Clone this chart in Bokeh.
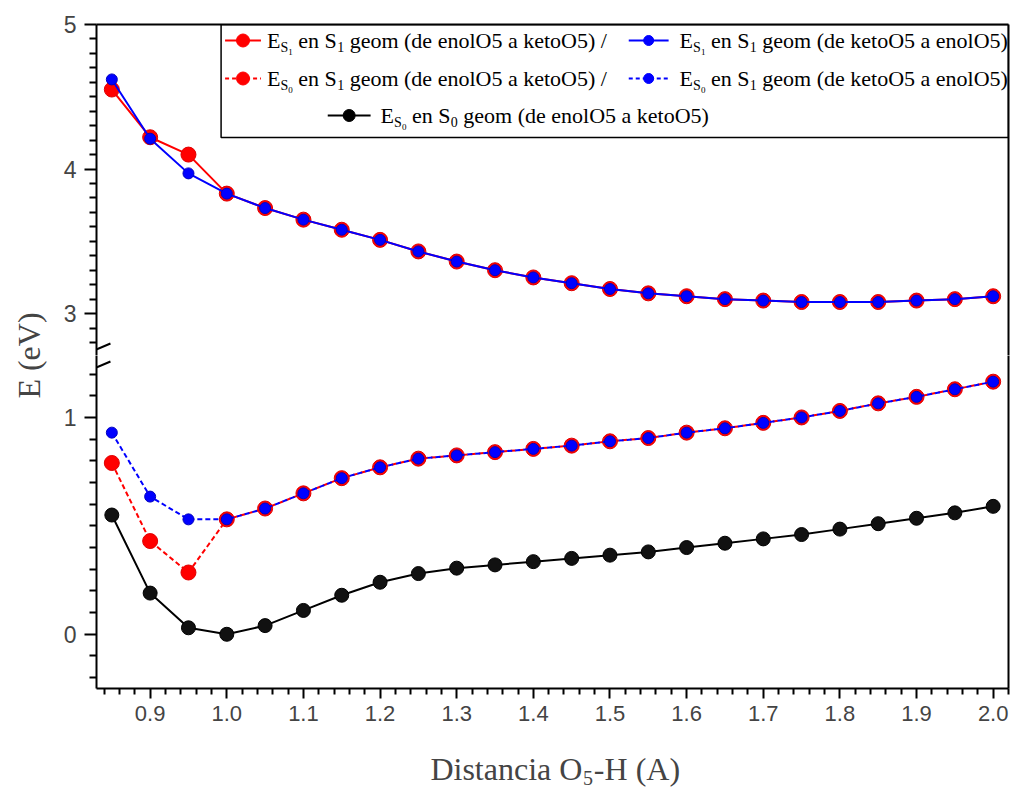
import math
from bokeh.plotting import figure
from bokeh.models import Range1d, FixedTicker, LinearAxis, Label, BoxAnnotation, PolyAnnotation, PrintfTickFormatter, Grid
from bokeh.layouts import row, column
from bokeh.embed import file_html
from bokeh.resources import INLINE

# ---------------- data ----------------
distance = [0.85, 0.90, 0.95, 1.00, 1.05, 1.10, 1.15, 1.20, 1.25, 1.30, 1.35, 1.40,
            1.45, 1.50, 1.55, 1.60, 1.65, 1.70, 1.75, 1.80, 1.85, 1.90, 1.95, 2.00]
e_s1_s1_enol_keto = [4.55, 4.22, 4.10, 3.83, 3.73, 3.65, 3.58, 3.51, 3.43, 3.36, 3.30, 3.25,
                     3.21, 3.17, 3.14, 3.12, 3.10, 3.09, 3.08, 3.08, 3.08, 3.09, 3.10, 3.12]
e_s1_s1_keto_enol = [4.62, 4.21, 3.97, 3.83, 3.73, 3.65, 3.58, 3.51, 3.43, 3.36, 3.30, 3.25,
                     3.21, 3.17, 3.14, 3.12, 3.10, 3.09, 3.08, 3.08, 3.08, 3.09, 3.10, 3.12]
e_s0_s1_enol_keto = [0.79, 0.43, 0.285, 0.53, 0.58, 0.65, 0.72, 0.77, 0.81, 0.825, 0.84, 0.855,
                     0.87, 0.89, 0.905, 0.93, 0.95, 0.975, 1.00, 1.03, 1.065, 1.095, 1.13, 1.165]
e_s0_s1_keto_enol = [0.93, 0.635, 0.53, 0.53, 0.58, 0.65, 0.72, 0.77, 0.81, 0.825, 0.84, 0.855,
                     0.87, 0.89, 0.905, 0.93, 0.95, 0.975, 1.00, 1.03, 1.065, 1.095, 1.13, 1.165]
e_s0_s0_enol_keto = [0.55, 0.19, 0.03, 0.00, 0.04, 0.11, 0.18, 0.24, 0.28, 0.305, 0.32, 0.335,
                     0.35, 0.365, 0.38, 0.40, 0.42, 0.44, 0.46, 0.485, 0.51, 0.535, 0.56, 0.59]

x_ticks = [0.9, 1.0, 1.1, 1.2, 1.3, 1.4, 1.5, 1.6, 1.7, 1.8, 1.9, 2.0]
upper_ticks = [3, 4, 5]
lower_ticks = [0, 1]

# ---------------- geometry ----------------
YL_W = 60
MAIN_W = 1013 - YL_W
F_LEFT = 93          # absolute frame left
F_RIGHT = 1008       # absolute frame right
TOP = 24
BREAK = 355
AXIS_Y = 688
XT_H = 52
X0, X1 = 0.83, 2.02
UY0, UY1 = 2.71, 5.0
LY0, LY1 = -0.25, 1.2857

SERIF = "Liberation Serif"
SANS = "Liberation Sans"


def ux(px):
    return X0 + (px - F_LEFT) * (X1 - X0) / (F_RIGHT - F_LEFT)


def uy(py):
    return UY1 - (py - TOP) * (UY1 - UY0) / (BREAK - TOP)


def ly(py):
    return LY1 - (py - BREAK) * (LY1 - LY0) / (AXIS_Y - BREAK)


def style_axis(ax, major_out=12, minor_out=7):
    ax.axis_line_color = "black"
    ax.axis_line_width = 2
    ax.major_tick_line_color = "black"
    ax.major_tick_line_width = 2
    ax.minor_tick_line_color = "black"
    ax.minor_tick_line_width = 2
    ax.major_tick_in = 0
    ax.major_tick_out = major_out
    ax.minor_tick_in = 0
    ax.minor_tick_out = minor_out


def plain_axis():
    ax = LinearAxis(ticker=FixedTicker(ticks=[], minor_ticks=[]))
    ax.axis_line_color = "black"
    ax.axis_line_width = 2
    ax.major_tick_out = 0
    ax.major_tick_in = 0
    ax.minor_tick_out = 0
    ax.minor_tick_in = 0
    ax.major_label_text_font_size = "0px"
    ax.major_label_standoff = 0
    return ax


def no_grid(f):
    for r in list(f.center):
        if isinstance(r, Grid):
            r.visible = False


xr = Range1d(X0, X1)

# ---------------- upper panel ----------------
up = figure(width=MAIN_W, height=BREAK, x_range=xr, y_range=Range1d(UY0, UY1),
            output_backend="svg", toolbar_location=None,
            x_axis_location=None, y_axis_location="left",
            min_border_left=F_LEFT - YL_W, min_border_right=1013 - F_RIGHT,
            min_border_top=TOP, min_border_bottom=0)
up.add_layout(plain_axis(), "above")
up.add_layout(plain_axis(), "right")
up_minor = [round(0.1 * i, 1) for i in range(28, 50) if i % 10 != 0]
up.yaxis[0].ticker = FixedTicker(ticks=upper_ticks, minor_ticks=up_minor)
style_axis(up.yaxis[0])
up.yaxis[0].major_label_text_font = SANS
up.yaxis[0].major_label_text_font_size = "23px"
up.yaxis[0].major_label_standoff = 8

# ---------------- lower panel ----------------
lo = figure(width=MAIN_W, height=AXIS_Y - BREAK + XT_H, x_range=xr, y_range=Range1d(LY0, LY1),
            output_backend="svg", toolbar_location=None,
            x_axis_location="below", y_axis_location="left",
            min_border_left=F_LEFT - YL_W, min_border_right=1013 - F_RIGHT,
            min_border_top=0, min_border_bottom=XT_H)
lo.add_layout(plain_axis(), "right")
lo_minor = [round(0.1 * i, 1) for i in range(-2, 13) if i % 10 != 0]
lo.yaxis[0].ticker = FixedTicker(ticks=lower_ticks, minor_ticks=lo_minor)
style_axis(lo.yaxis[0])
lo.yaxis[0].major_label_text_font = SANS
lo.yaxis[0].major_label_text_font_size = "23px"
lo.yaxis[0].major_label_standoff = 8
x_minor = [round(0.02 * i, 2) for i in range(42, 102) if i % 5 != 0]
lo.xaxis[0].ticker = FixedTicker(ticks=x_ticks, minor_ticks=x_minor)
lo.xaxis[0].formatter = PrintfTickFormatter(format="%.1f")
style_axis(lo.xaxis[0], major_out=10, minor_out=6)
lo.xaxis[0].major_label_text_font = SANS
lo.xaxis[0].major_label_text_font_size = "22px"
lo.xaxis[0].major_label_standoff = 7

for f in (up, lo):
    no_grid(f)
    f.outline_line_color = None
    f.background_fill_color = "white"
    f.border_fill_color = "white"

RED, BLUE = "#ff0000", "#0000ff"

# upper curves
up.line(distance, e_s1_s1_enol_keto, line_color=RED, line_width=2)
up.scatter(distance, e_s1_s1_enol_keto, size=15, fill_color=RED, line_color="#e00000")
up.line(distance, e_s1_s1_keto_enol, line_color=BLUE, line_width=2)
up.scatter(distance, e_s1_s1_keto_enol, size=11, fill_color=BLUE, line_color="#0000c0")

# lower curves
lo.line(distance, e_s0_s1_enol_keto, line_color=RED, line_width=2, line_dash="5 3")
lo.scatter(distance, e_s0_s1_enol_keto, size=15, fill_color=RED, line_color="#e00000")
lo.line(distance, e_s0_s1_keto_enol, line_color=BLUE, line_width=2, line_dash="5 3")
lo.scatter(distance, e_s0_s1_keto_enol, size=11, fill_color=BLUE, line_color="#0000c0")
lo.line(distance, e_s0_s0_enol_keto, line_color="black", line_width=2)
lo.scatter(distance, e_s0_s0_enol_keto, size=14, fill_color="#111111", line_color="black")

# axis break marks: placed in the left side panel so they are not clipped to the frame
up.add_layout(PolyAnnotation(xs=[ux(81), ux(107)], ys=[uy(354), uy(343)],
                             fill_alpha=0, line_color="black", line_alpha=1, line_width=2), "left")
lo.add_layout(PolyAnnotation(xs=[ux(81), ux(107)], ys=[ly(372), ly(361)],
                             fill_alpha=0, line_color="black", line_alpha=1, line_width=2), "left")

# ---------------- legend (drawn by hand) ----------------
up.add_layout(BoxAnnotation(left=ux(218), right=ux(F_RIGHT), top=uy(TOP), bottom=uy(137),
                            fill_color="white", fill_alpha=1, line_color="black",
                            line_alpha=1, line_width=1.5, level="underlay"))


def sample(x0, x1, yy, color, dash, msize):
    up.line([ux(x0), ux(x1)], [uy(yy), uy(yy)], line_color=color, line_width=2, line_dash=dash)
    up.scatter([ux((x0 + x1) / 2)], [uy(yy)], size=msize, fill_color=color, line_color=color)


def txt(x, y, s, size, font=SERIF):
    up.add_layout(Label(x=ux(x), y=uy(y), text=s, text_font=font,
                        text_font_size=f"{size}px", text_align="left",
                        text_baseline="middle", text_color="black"))


def entry(x, y, s0, s1, geom, tail):
    txt(x, y, "E", 22)
    txt(x + 13.5, y + 7, "S", 14)
    txt(x + 21.5, y + 11, s0, 9)
    txt(x + 31.5, y, "en S", 22)
    txt(x + 70.5, y + 6, s1, 14)
    txt(x + 83, y, geom + tail, 22)


R1, R2, R3 = 40, 78, 115
sample(222, 258, R1, RED, "solid", 13)
entry(264, R1, "1", "1", "geom (de enolO5 a ketoO5)", " /")
sample(627, 667, R1, BLUE, "solid", 10)
entry(678, R1, "1", "1", "geom (de ketoO5 a enolO5)", "")
sample(222, 258, R2, RED, "4 3", 13)
entry(264, R2, "0", "1", "geom (de enolO5 a ketoO5)", " /")
sample(627, 667, R2, BLUE, "4 3", 10)
entry(678, R2, "0", "1", "geom (de ketoO5 a enolO5)", "")
sample(325, 368, R3, "black", "solid", 12)
entry(378, R3, "0", "0", "geom (de enolO5 a ketoO5)", "")

# ---------------- y-axis title panel ----------------
yl = figure(width=YL_W, height=788, x_range=Range1d(0, YL_W), y_range=Range1d(788, 0),
            output_backend="svg", toolbar_location=None,
            x_axis_location=None, y_axis_location=None, min_border=0)
yl.outline_line_color = None
no_grid(yl)
yl.add_layout(Label(x=28, y=BREAK, text="E (eV)", angle=math.pi / 2, text_align="center",
                    text_baseline="middle", text_font=SERIF, text_font_size="32px"))

# ---------------- x-axis title panel ----------------
XL_H = 788 - (AXIS_Y + XT_H)
xl = figure(width=MAIN_W, height=XL_H, x_range=Range1d(F_LEFT, F_RIGHT),
            y_range=Range1d(788, AXIS_Y + XT_H),
            output_backend="svg", toolbar_location=None,
            x_axis_location=None, y_axis_location=None,
            min_border_left=F_LEFT - YL_W, min_border_right=1013 - F_RIGHT,
            min_border_top=0, min_border_bottom=0)
xl.outline_line_color = None
no_grid(xl)
for xx, yy, s, sz in [(428, 768, "Distancia O", 32), (581, 777, "5", 20), (592, 768, "-H (A)", 32)]:
    xl.add_layout(Label(x=xx, y=yy, text=s, text_font=SERIF, text_font_size=f"{sz}px",
                        text_align="left", text_baseline="middle"))

layout = row(yl, column(up, lo, xl, spacing=0), spacing=0)
open("out.html", "w").write(file_html(layout, INLINE))
